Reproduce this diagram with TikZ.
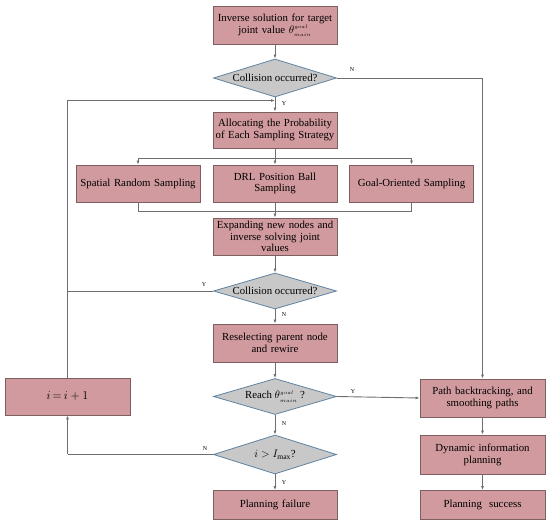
\documentclass[tikz,border=0pt]{standalone}
\usepackage{fontspec}
\setmainfont{Liberation Serif}
\usetikzlibrary{shapes.geometric,arrows.meta}
\definecolor{boxfill}{RGB}{209,154,158}
\definecolor{boxdraw}{RGB}{125,95,98}
\definecolor{dfill}{RGB}{200,200,200}
\definecolor{ddraw}{RGB}{95,130,160}
\definecolor{lcol}{RGB}{110,110,110}
\newcommand{\thgoal}{\theta^{\scriptscriptstyle goal}_{\raisebox{0pt}[5.5pt][0pt]{$\scriptscriptstyle main$}}}
\begin{document}
\begin{tikzpicture}[x=1pt,y=1pt,
  procbox/.style={draw=boxdraw,fill=boxfill,line width=0.8pt,minimum width=124pt,minimum height=38pt,inner sep=0pt,align=center,font=\fontsize{10.8}{11.8}\selectfont,text width=122pt},
  decbox/.style={diamond,draw=ddraw,fill=dfill,line width=0.8pt,minimum width=123pt,minimum height=38pt,aspect=3.2,inner sep=0pt,align=center,font=\fontsize{10.8}{12}\selectfont},
  conn/.style={draw=lcol,line width=0.9pt},
  arr/.style={conn,-{Latex[length=4pt,width=3pt]}},
  yn/.style={font=\fontsize{6}{7}\selectfont,inner sep=1pt}]
\useasboundingbox (0,0) rectangle (550,-524);
% nodes
\node[procbox] (inv) at (275,-25.5) {Inverse solution for target\\joint value $\thgoal$};
\node[decbox] (d1) at (275,-78) {Collision occurred?};
\node[procbox,minimum height=36pt] (alloc) at (275,-130) {Allocating the Probability\\of Each Sampling Strategy};
\node[procbox,minimum height=37pt] (spat) at (138,-183.5) {Spatial Random Sampling};
\node[procbox,minimum height=37pt] (drl) at (275,-183.5) {DRL Position Ball\\Sampling};
\node[procbox,minimum height=37pt] (goal) at (411.5,-183.5) {Goal-Oriented Sampling};
\node[procbox,minimum height=37pt] (exp) at (275,-236.5) {Expanding new nodes and\\inverse solving joint\\values};
\node[decbox,minimum height=36pt] (d2) at (275,-291) {Collision occurred?};
\node[procbox] (resel) at (275,-343) {Reselecting parent node\\and rewire};
\node[decbox,minimum height=36pt] (d3) at (275,-396.5) {Reach $\thgoal$ ?};
\node[decbox,minimum height=39pt] (d4) at (275,-454.5) {$i>I_{\max}$?};
\node[procbox,minimum height=29pt] (fail) at (275,-505) {Planning failure};
\node[procbox,minimum width=125pt,text width=123pt] (path) at (482.5,-398) {Path backtracking, and\\smoothing paths};
\node[procbox,minimum width=125pt,text width=123pt,minimum height=39pt] (dyn) at (482.5,-454.5) {Dynamic information\\planning};
\node[procbox,minimum width=125pt,text width=123pt,minimum height=29pt] (succ) at (482.5,-505) {Planning~ success};
\node[procbox,minimum width=125pt,text width=123pt,minimum height=37pt,font=\fontsize{13}{14}\selectfont] (inc) at (67.5,-396.5) {$\thickmuskip=3mu i=i\!+\!1$};
% helper coordinates
\coordinate (loopj) at (275,-100.5);
\coordinate (loopl) at (67.5,-100.5);
\coordinate (nr) at (482.5,-78);
\coordinate (br) at (275,-158);
\coordinate (brl) at (138,-158);
\coordinate (brr) at (411.5,-158);
\coordinate (mg) at (275,-211);
\coordinate (mgl) at (138,-211);
\coordinate (mgr) at (411.5,-211);
\coordinate (d2l) at (67.5,-291);
\coordinate (d4l) at (67.5,-454.5);
% connectors
\draw[arr] (inv) -- (d1);
\draw[arr] (d1) -- (alloc);
\draw[conn] (d1.east) -- (nr);
\draw[arr] (nr) -- (path);
\draw[conn] (inc) -- (loopl);
\draw[arr] (loopl) -- (loopj);
\draw[conn] (alloc) -- (br);
\draw[conn] (brl) -- (brr);
\draw[arr] (brl) -- (spat);
\draw[arr] (br) -- (drl);
\draw[arr] (brr) -- (goal);
\draw[conn] (spat) -- (mgl) -- (mgr) -- (goal);
\draw[conn] (drl) -- (mg);
\draw[arr] (mg) -- (exp);
\draw[arr] (exp) -- (d2);
\draw[conn] (d2.west) -- (d2l);
\draw[arr] (d2) -- (resel);
\draw[arr] (resel) -- (d3);
\draw[arr] (d3.east) -- (path.west);
\draw[arr] (d3) -- (d4);
\draw[conn] (d4.west) -- (d4l);
\draw[arr] (d4l) -- (inc);
\draw[arr] (d4) -- (fail);
\draw[arr] (path) -- (dyn);
\draw[arr] (dyn) -- (succ);
% labels
\node[yn] (n1) at (352,-70) {N};
\node[yn] (y1) at (284,-103.5) {Y};
\node[yn] (y2) at (204,-285) {Y};
\node[yn] (n2) at (284,-315) {N};
\node[yn] (y3) at (353,-392) {Y};
\node[yn] (n3) at (284,-424) {N};
\node[yn] (n4) at (205,-449) {N};
\node[yn] (y4) at (284,-483) {Y};
\end{tikzpicture}
\end{document}
